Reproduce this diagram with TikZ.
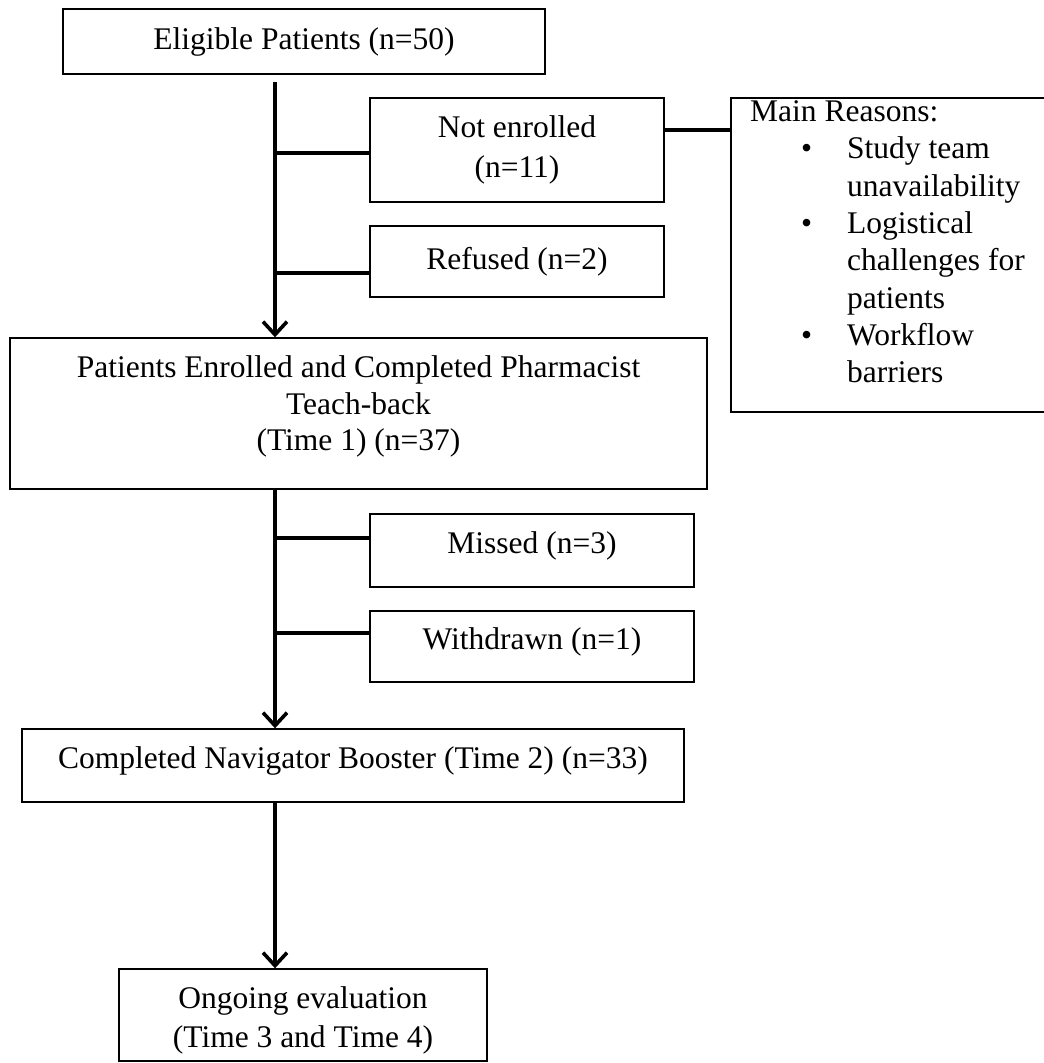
\documentclass[tikz,border=0pt]{standalone}
\usepackage{fontspec}
\setmainfont{Liberation Serif}
\usetikzlibrary{arrows.meta}
\begin{document}
\begin{tikzpicture}[x=1pt,y=-1pt,
  box/.style={draw, line width=1.4pt, inner sep=0pt, align=center, font=\fontsize{31.5}{38}\selectfont},
  up/.style={text height=22pt, text depth=17pt},
  txt/.style={inner sep=0pt},
  conn/.style={line width=3.4pt},
  arr/.style={conn, -{Straight Barb[length=13pt,width=24pt,line width=3.6pt]}},
  shade/.style={line width=3.4pt, draw=black!15, shift={(2pt,2pt)}}
  ]
\useasboundingbox (0,0) rectangle (1044,1063);

% boxes
\node[box, minimum width=482pt, minimum height=65pt] (elig) at (304,41.5) {Eligible Patients (n=50)};
\node[box, minimum width=294pt, minimum height=104pt, font=\fontsize{31.5}{40}\selectfont] (noten) at (517,150) {Not enrolled\\(n=11)};
\node[box, minimum width=294pt, minimum height=71pt] (ref) at (517,261.5) {Refused (n=2)};
\node[box, minimum width=315pt, minimum height=314pt] (mr) at (888.5,255) {};
\node[txt, anchor=north west, align=left, font=\fontsize{31.5}{37.3}\selectfont] (mrt) at (750,100.5)
  {Main Reasons:\\
   \hspace*{51pt}\makebox[46pt][l]{•}Study team\\
   \hspace*{97pt}unavailability\\
   \hspace*{51pt}\makebox[46pt][l]{•}Logistical\\
   \hspace*{97pt}challenges for\\
   \hspace*{97pt}patients\\
   \hspace*{51pt}\makebox[46pt][l]{•}Workflow\\
   \hspace*{97pt}barriers};
\node[box, minimum width=697pt, minimum height=151pt, font=\fontsize{31.5}{36.5}\selectfont] (enr) at (358.5,413.5)
  {Patients Enrolled and Completed Pharmacist\\Teach-back\\(Time 1) (n=37)\rule[-20pt]{0pt}{1pt}};
\node[box, up, minimum width=324pt, minimum height=73pt] (miss) at (532,550.5) {Missed (n=3)};
\node[box, up, minimum width=324pt, minimum height=71pt] (wd) at (532,646.5) {Withdrawn (n=1)};
\node[box, up, minimum width=662pt, minimum height=73pt] (boost) at (353,765.5) {Completed Navigator Booster (Time 2) (n=33)};
\node[box, minimum width=368pt, minimum height=92pt, font=\fontsize{31.5}{39}\selectfont] (ong) at (303,1015)
  {\rule{0pt}{32pt}Ongoing evaluation\\(Time 3 and Time 4)};

% connectors
\coordinate (t1) at (275,82);
\coordinate (b1) at (275,153);
\coordinate (b2) at (275,273);
\coordinate (c1) at (700,130);
\coordinate (t2) at (275,0);
\coordinate (b3) at (275,538);
\coordinate (b4) at (275,633);

\begin{scope}[on background layer/.style={}]
\draw[shade] (b1) -- ([xshift=-2pt]b1 -| noten.west);
\draw[shade] (b2) -- ([xshift=-2pt]b2 -| ref.west);
\draw[shade] (b3) -- ([xshift=-2pt]b3 -| miss.west);
\draw[shade] (b4) -- ([xshift=-2pt]b4 -| wd.west);
\end{scope}

\draw[arr] (t1) -- (t1 |- enr.north);
\draw[conn] (b1) -- (b1 -| noten.west);
\draw[conn] (b2) -- (b2 -| ref.west);
\draw[conn] (c1 -| noten.east) -- (c1 -| mr.west);
\draw[arr] (t2 |- enr.south) -- (t2 |- boost.north);
\draw[conn] (b3) -- (b3 -| miss.west);
\draw[conn] (b4) -- (b4 -| wd.west);
\draw[arr] (t2 |- boost.south) -- (t2 |- ong.north);
\end{tikzpicture}
\end{document}
